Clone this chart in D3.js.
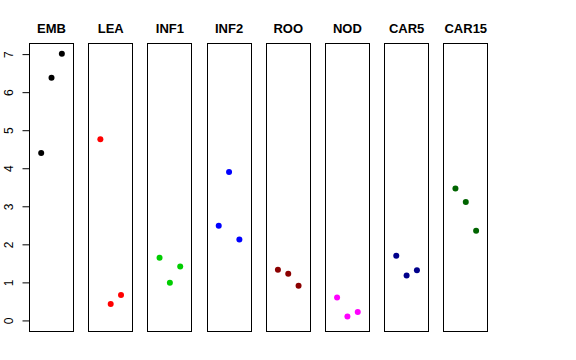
<!DOCTYPE html>
<html>
<head>
<meta charset="utf-8">
<script src="https://cdn.jsdelivr.net/npm/d3@7"></script>
<style>
  html, body { margin: 0; padding: 0; background: #fff; }
  svg { display: block; }
</style>
</head>
<body>
<svg id="chart" width="576" height="360"></svg>
<script>
const categories = ["EMB", "LEA", "INF1", "INF2", "ROO", "NOD", "CAR5", "CAR15"];
const rep1 = [4.40, 4.76, 1.65, 2.49, 1.33, 0.60, 1.70, 3.47];
const rep2 = [6.38, 0.43, 0.99, 3.90, 1.23, 0.10, 1.18, 3.11];
const rep3 = [7.01, 0.67, 1.42, 2.13, 0.91, 0.22, 1.32, 2.36];
const colors = ["#000000", "#FF0000", "#00CD00", "#0000FF", "#8B0000", "#FF00FF", "#00008B", "#006400"];
const yTicks = [0, 1, 2, 3, 4, 5, 6, 7];

(function () {
const svg = d3.select("#chart");
const font = "'Liberation Sans', Arial, Helvetica, sans-serif";

const panel = d3.scaleBand().domain(categories).range([29, 488.3]).paddingInner(0.239).paddingOuter(0);
const y = d3.scaleLinear().domain([-0.27, 7.30]).range([330.7, 42.7]);
const xIn = d3.scaleLinear().domain([-0.18, 4.18]).range([0, panel.bandwidth()]);

const boxTop = y(7.30), boxBottom = y(-0.27);

categories.forEach((c, i) => {
  const x0 = panel(c);
  const g = svg.append("g");
  const pts = [rep1[i], rep2[i], rep3[i]];
  g.selectAll("circle").data(pts).enter().append("circle")
    .attr("cx", (d, j) => x0 + xIn(j + 1))
    .attr("cy", d => y(d))
    .attr("r", 3)
    .attr("fill", colors[i]);
  g.append("rect")
    .attr("x", Math.round(x0) + 0.5)
    .attr("y", Math.round(boxTop) + 0.5)
    .attr("width", Math.round(panel.bandwidth()) - 1)
    .attr("height", Math.round(boxBottom) - Math.round(boxTop))
    .attr("fill", "none")
    .attr("stroke", "#000")
    .attr("stroke-width", 1);
  g.append("text")
    .attr("x", x0 + panel.bandwidth() / 2)
    .attr("y", 33)
    .attr("text-anchor", "middle")
    .attr("font-family", font)
    .attr("font-weight", "bold")
    .attr("font-size", 13)
    .text(c);
});

// y axis
const axisX = Math.round(panel(categories[0])) + 0.5;
const ax = svg.append("g").attr("transform", `translate(${axisX},0)`)
  .call(d3.axisLeft(y).tickValues(yTicks).tickSize(7).tickPadding(0).tickFormat(d3.format("d")));
ax.select(".domain").attr("d", `M0,${y(0)}V${y(7)}`).attr("stroke", "#000");
ax.selectAll(".tick line").attr("stroke", "#000");
ax.selectAll(".tick text")
  .attr("font-family", font)
  .attr("font-size", 12)
  .attr("fill", "#000")
  .attr("transform", "rotate(-90)")
  .attr("x", 0)
  .attr("y", -17)
  .attr("dy", 0)
  .attr("text-anchor", "middle");
})();
</script>
</body>
</html>
